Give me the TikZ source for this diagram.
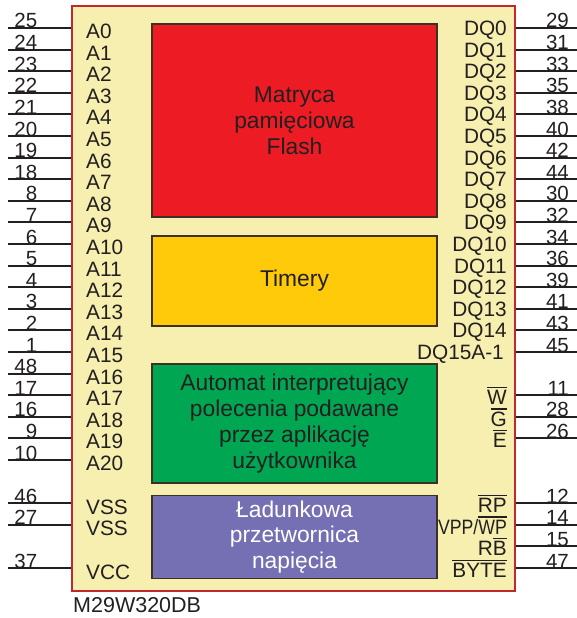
\documentclass[tikz,border=0pt]{standalone}
\usepackage{fontspec}
\setmainfont{Liberation Sans}
\definecolor{chipfill}{RGB}{246,239,176}
\definecolor{chipline}{RGB}{193,39,45}
\definecolor{flashred}{RGB}{237,28,36}
\definecolor{timeryel}{RGB}{254,202,10}
\definecolor{autogreen}{RGB}{0,166,81}
\definecolor{convpurple}{RGB}{117,112,179}
\definecolor{ink}{RGB}{35,31,32}
\definecolor{blkline}{RGB}{60,50,35}
\newcommand\ovl[1]{\leavevmode\vbox{\hrule height 1.3pt\kern 2.2pt\hbox{#1}}}
\tikzset{
  chipbox/.style={draw=chipline, line width=2pt, fill=chipfill, minimum width=443pt, minimum height=585pt, inner sep=0pt},
  blk/.style={draw=blkline, line width=1.8pt, minimum width=285pt, inner sep=0pt, align=center, text=ink, font=\fontsize{22.8}{25.8}\selectfont},
  pin/.style={draw=ink, line width=2pt},
  lbl/.style={inner sep=0pt, text=ink, font=\fontsize{20.8}{24}\selectfont},
  num/.style={inner sep=0pt, text=ink, font=\fontsize{20.5}{24}\selectfont, anchor=base east},
}
\begin{document}
\begin{tikzpicture}[x=1pt,y=-1pt]
\useasboundingbox (0,0) rectangle (577,618);
\node[chipbox] (chip) at (293.5,298.5) {};
\node[blk, fill=flashred, minimum height=193pt] (flash) at (294.5,120.5) {Matryca\\pamięciowa\\Flash};
\node[blk, fill=timeryel, minimum height=90pt] (timery) at (294.5,281) {Timery};
\node[blk, fill=autogreen, minimum height=119pt] (automat) at (294.5,423.5) {Automat interpretujący\\polecenia podawane\\przez aplikację\\użytkownika};
\node[blk, fill=convpurple, minimum height=83pt, text=white] (conv) at (294.5,537) {Ładunkowa\\przetwornica\\napięcia};
% left pins
\foreach \i/\lab/\num/\dy in {0/A0/25/10.5,1/A1/24/10.5,2/A2/23/10.5,3/A3/22/10.5,4/A4/21/10.5,5/A5/20/10.5,6/A6/19/10.5,7/A7/18/10.5,8/A8/8/10.5,9/A9/7/10.5,10/A10/6/10.5,11/A11/5/10.5,12/A12/4/10.5,13/A13/3/10.5,14/A14/2/10.5,15/A15/1/10.5,16/A16/48/10.5,17/A17/17/10.5,18/A18/16/10.5,19/A19/9/10.5,20/A20/10/10.5,22/VSS/46/11,23/VSS/27/11,25/VCC/37/11}{
  \coordinate (L\i) at (8,{28+21.6*\i});
  \draw[pin] (L\i) -- (chip.west |- L\i);
  \node[lbl, anchor=base west] (la\i) at (86,{28+21.6*\i+\dy}) {\lab};
  \node[num] (ln\i) at (37.5,{28+21.6*\i}) {\num};
}
% right pins
\foreach \i/\lab/\num/\dy/\rx in {0/DQ0/29/7.5/507,1/DQ1/31/7.5/507,2/DQ2/33/7.5/507,3/DQ3/35/7.5/507,4/DQ4/38/7.5/507,5/DQ5/40/7.5/507,6/DQ6/42/7.5/507,7/DQ7/44/7.5/507,8/DQ8/30/7.5/507,9/DQ9/32/7.5/507,10/DQ10/34/7.5/507,11/DQ11/36/7.5/507,12/DQ12/39/7.5/507,13/DQ13/41/7.5/507,14/DQ14/43/7.5/507,15/DQ15A-1/45/7.5/504,17/\ovl{W}/11/9.5/507,18/\ovl{G}/28/9.5/507,19/\ovl{E}/26/9.5/507,22/\ovl{RP}/12/9.5/507,23/{\scalebox{0.85}[1]{VPP/\ovl{WP}}}/14/9.5/507,24/R\ovl{B}/15/9.5/507,25/\ovl{BYTE}/47/9.5/507}{
  \coordinate (R\i) at (577,{28+21.6*\i});
  \draw[pin] (chip.east |- R\i) -- (R\i);
  \node[lbl, anchor=base east] (ra\i) at (\rx,{28+21.6*\i+\dy}) {\lab};
  \node[num] (rn\i) at (569,{28+21.6*\i}) {\num};
}
\node[lbl, anchor=base west, font=\fontsize{21.5}{24}\selectfont] (title) at (73,612) {M29W320DB};
\end{tikzpicture}
\end{document}
